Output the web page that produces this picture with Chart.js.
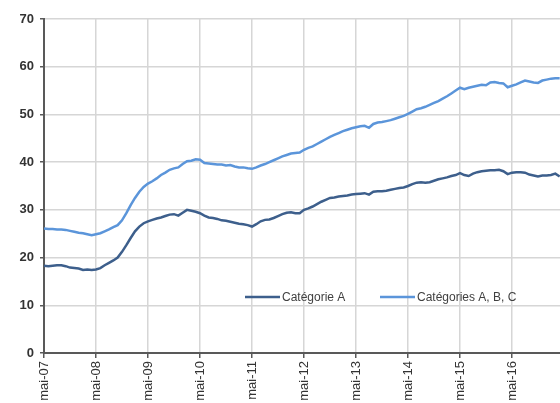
<!DOCTYPE html>
<html>
<head>
<meta charset="utf-8">
<script src="https://cdn.jsdelivr.net/npm/chart.js@4/dist/chart.umd.min.js"></script>
<style>
  html, body { margin: 0; padding: 0; background: #fff; }
  #wrap { width: 560px; height: 403px; overflow: hidden; position: relative; }
  canvas { display: block; }
</style>
</head>
<body>
<div id="wrap"><canvas id="chart" width="580" height="415"></canvas></div>
<script>
// months shown on the x axis, starting mai-07 and ending mai-17
var monthNames = ['mai', 'juin', 'juil.', 'août', 'sept.', 'oct.', 'nov.', 'déc.', 'janv.', 'févr.', 'mars', 'avr.'];
var firstYear = 7;
var monthCount = 121;

var seriesNames = ['Catégorie A', 'Catégories A, B, C'];
var seriesColors = ['#3d5f8c', '#5b95da'];

var categoryA = [
    18.3, 18.2, 18.3, 18.4, 18.4, 18.2, 17.9, 17.8, 17.7, 17.4, 17.5, 17.4,
    17.5, 17.8, 18.4, 18.9, 19.4, 20.0, 21.2, 22.6, 24.1, 25.5, 26.5, 27.2,
    27.6, 27.9, 28.2, 28.4, 28.7, 29.0, 29.1, 28.8, 29.4, 30.0, 29.8, 29.6,
    29.3, 28.8, 28.4, 28.3, 28.1, 27.8, 27.7, 27.5, 27.3, 27.1, 27.0, 26.8,
    26.5, 27.0, 27.6, 27.9, 28.0, 28.3, 28.7, 29.1, 29.4, 29.5, 29.3, 29.3,
    30.0, 30.3, 30.7, 31.2, 31.7, 32.1, 32.5, 32.6, 32.8, 32.9, 33.0, 33.2,
    33.3, 33.4, 33.5, 33.2, 33.8, 33.9, 33.9, 34.0, 34.2, 34.4, 34.6, 34.7,
    35.0, 35.4, 35.7, 35.8, 35.7, 35.8, 36.1, 36.4, 36.6, 36.8, 37.1, 37.3,
    37.7, 37.3, 37.1, 37.6, 37.9, 38.1, 38.2, 38.3, 38.3, 38.4, 38.1, 37.5,
    37.8, 37.9, 37.9, 37.8, 37.4, 37.2, 37.0, 37.2, 37.2, 37.3, 37.6, 37.0
];

var categoriesABC = [
    26.1, 26.0, 26.0, 25.9, 25.9, 25.8, 25.6, 25.4, 25.2, 25.1, 24.9, 24.7,
    24.9, 25.1, 25.5, 25.9, 26.4, 26.8, 27.8, 29.3, 31.0, 32.5, 33.8, 34.8,
    35.5, 36.0, 36.6, 37.3, 37.8, 38.4, 38.7, 38.9, 39.6, 40.2, 40.3, 40.6,
    40.5, 39.8, 39.7, 39.6, 39.5, 39.5, 39.3, 39.4, 39.1, 38.9, 38.9, 38.7,
    38.6, 38.9, 39.3, 39.6, 40.0, 40.4, 40.8, 41.2, 41.5, 41.8, 41.9, 42.0,
    42.6, 43.0, 43.3, 43.8, 44.3, 44.8, 45.3, 45.7, 46.1, 46.5, 46.8, 47.1,
    47.3, 47.5, 47.6, 47.2, 48.0, 48.3, 48.4, 48.6, 48.8, 49.1, 49.4, 49.7,
    50.1, 50.6, 51.1, 51.3, 51.6, 52.0, 52.4, 52.8, 53.3, 53.8, 54.4, 55.0,
    55.6, 55.3, 55.6, 55.8, 56.0, 56.2, 56.1, 56.7, 56.8, 56.6, 56.5, 55.7,
    56.0, 56.3, 56.7, 57.1, 56.9, 56.7, 56.6, 57.1, 57.3, 57.5, 57.6, 57.6
];

var yTicks = [0, 10, 20, 30, 40, 50, 60, 70];

var labels = [];
for (var i = 0; i < monthCount; i++) {
    var yr = firstYear + Math.floor(i / 12) + (i % 12 >= 8 ? 1 : 0);
    labels.push(monthNames[i % 12] + '-' + String(yr).padStart(2, '0'));
}

// legend drawn inside the plot, like the original
var insideLegend = {
    id: 'insideLegend',
    afterDatasetsDraw: function(chart) {
        var ctx = chart.ctx;
        var y = 297;
        var xs = [245, 380];
        ctx.save();
        ctx.font = '12px "Liberation Sans", Arial, sans-serif';
        ctx.textBaseline = 'middle';
        ctx.fillStyle = '#404040';
        chart.data.datasets.forEach(function(ds, k) {
            var x = xs[k];
            ctx.strokeStyle = ds.borderColor;
            ctx.lineWidth = 2.5;
            ctx.beginPath();
            ctx.moveTo(x, y);
            ctx.lineTo(x + 35, y);
            ctx.stroke();
            ctx.fillText(ds.label, x + 37, y + 1);
        });
        ctx.restore();
    }
};

var ctx = document.getElementById('chart').getContext('2d');
var myChart = new Chart(ctx, {
    type: 'line',
    data: {
        labels: labels,
        datasets: [{
            label: seriesNames[0],
            data: categoryA,
            borderColor: seriesColors[0],
            borderWidth: 2.5,
            pointRadius: 0,
            tension: 0
        }, {
            label: seriesNames[1],
            data: categoriesABC,
            borderColor: seriesColors[1],
            borderWidth: 2.5,
            pointRadius: 0,
            tension: 0
        }]
    },
    options: {
        responsive: false,
        animation: false,
        devicePixelRatio: 1,
        layout: {
            padding: { left: 0, right: 16, top: 19, bottom: 0 }
        },
        plugins: {
            legend: { display: false },
            tooltip: { enabled: false }
        },
        scales: {
            x: {
                offset: false,
                afterFit: function(scale) { scale.height = 62; },
                border: { color: '#595959', width: 2 },
                grid: {
                    color: '#d6d6d6',
                    lineWidth: 1.5,
                    tickLength: 5,
                    tickColor: '#595959'
                },
                ticks: {
                    autoSkip: false,
                    maxRotation: 90,
                    minRotation: 90,
                    padding: 3,
                    color: '#333333',
                    font: { family: '"Liberation Sans", Arial, sans-serif', size: 13 },
                    callback: function(value, index) {
                        var l = labels[index];
                        // last one (mai-17) falls off the picture
                        return (l.indexOf('mai-') === 0 && index < monthCount - 1) ? l : null;
                    }
                }
            },
            y: {
                min: 0,
                max: 70,
                afterFit: function(scale) { scale.width = 44; },
                afterBuildTicks: function(scale) {
                    scale.ticks = yTicks.map(function(v) { return { value: v }; });
                },
                border: { color: '#595959', width: 2 },
                grid: {
                    color: '#d6d6d6',
                    lineWidth: 1.5,
                    tickLength: 4,
                    tickColor: '#595959'
                },
                ticks: {
                    padding: 6,
                    color: '#333333',
                    font: { family: '"Liberation Sans", Arial, sans-serif', size: 13, weight: 'bold' }
                }
            }
        }
    },
    plugins: [insideLegend]
});
</script>
</body>
</html>
